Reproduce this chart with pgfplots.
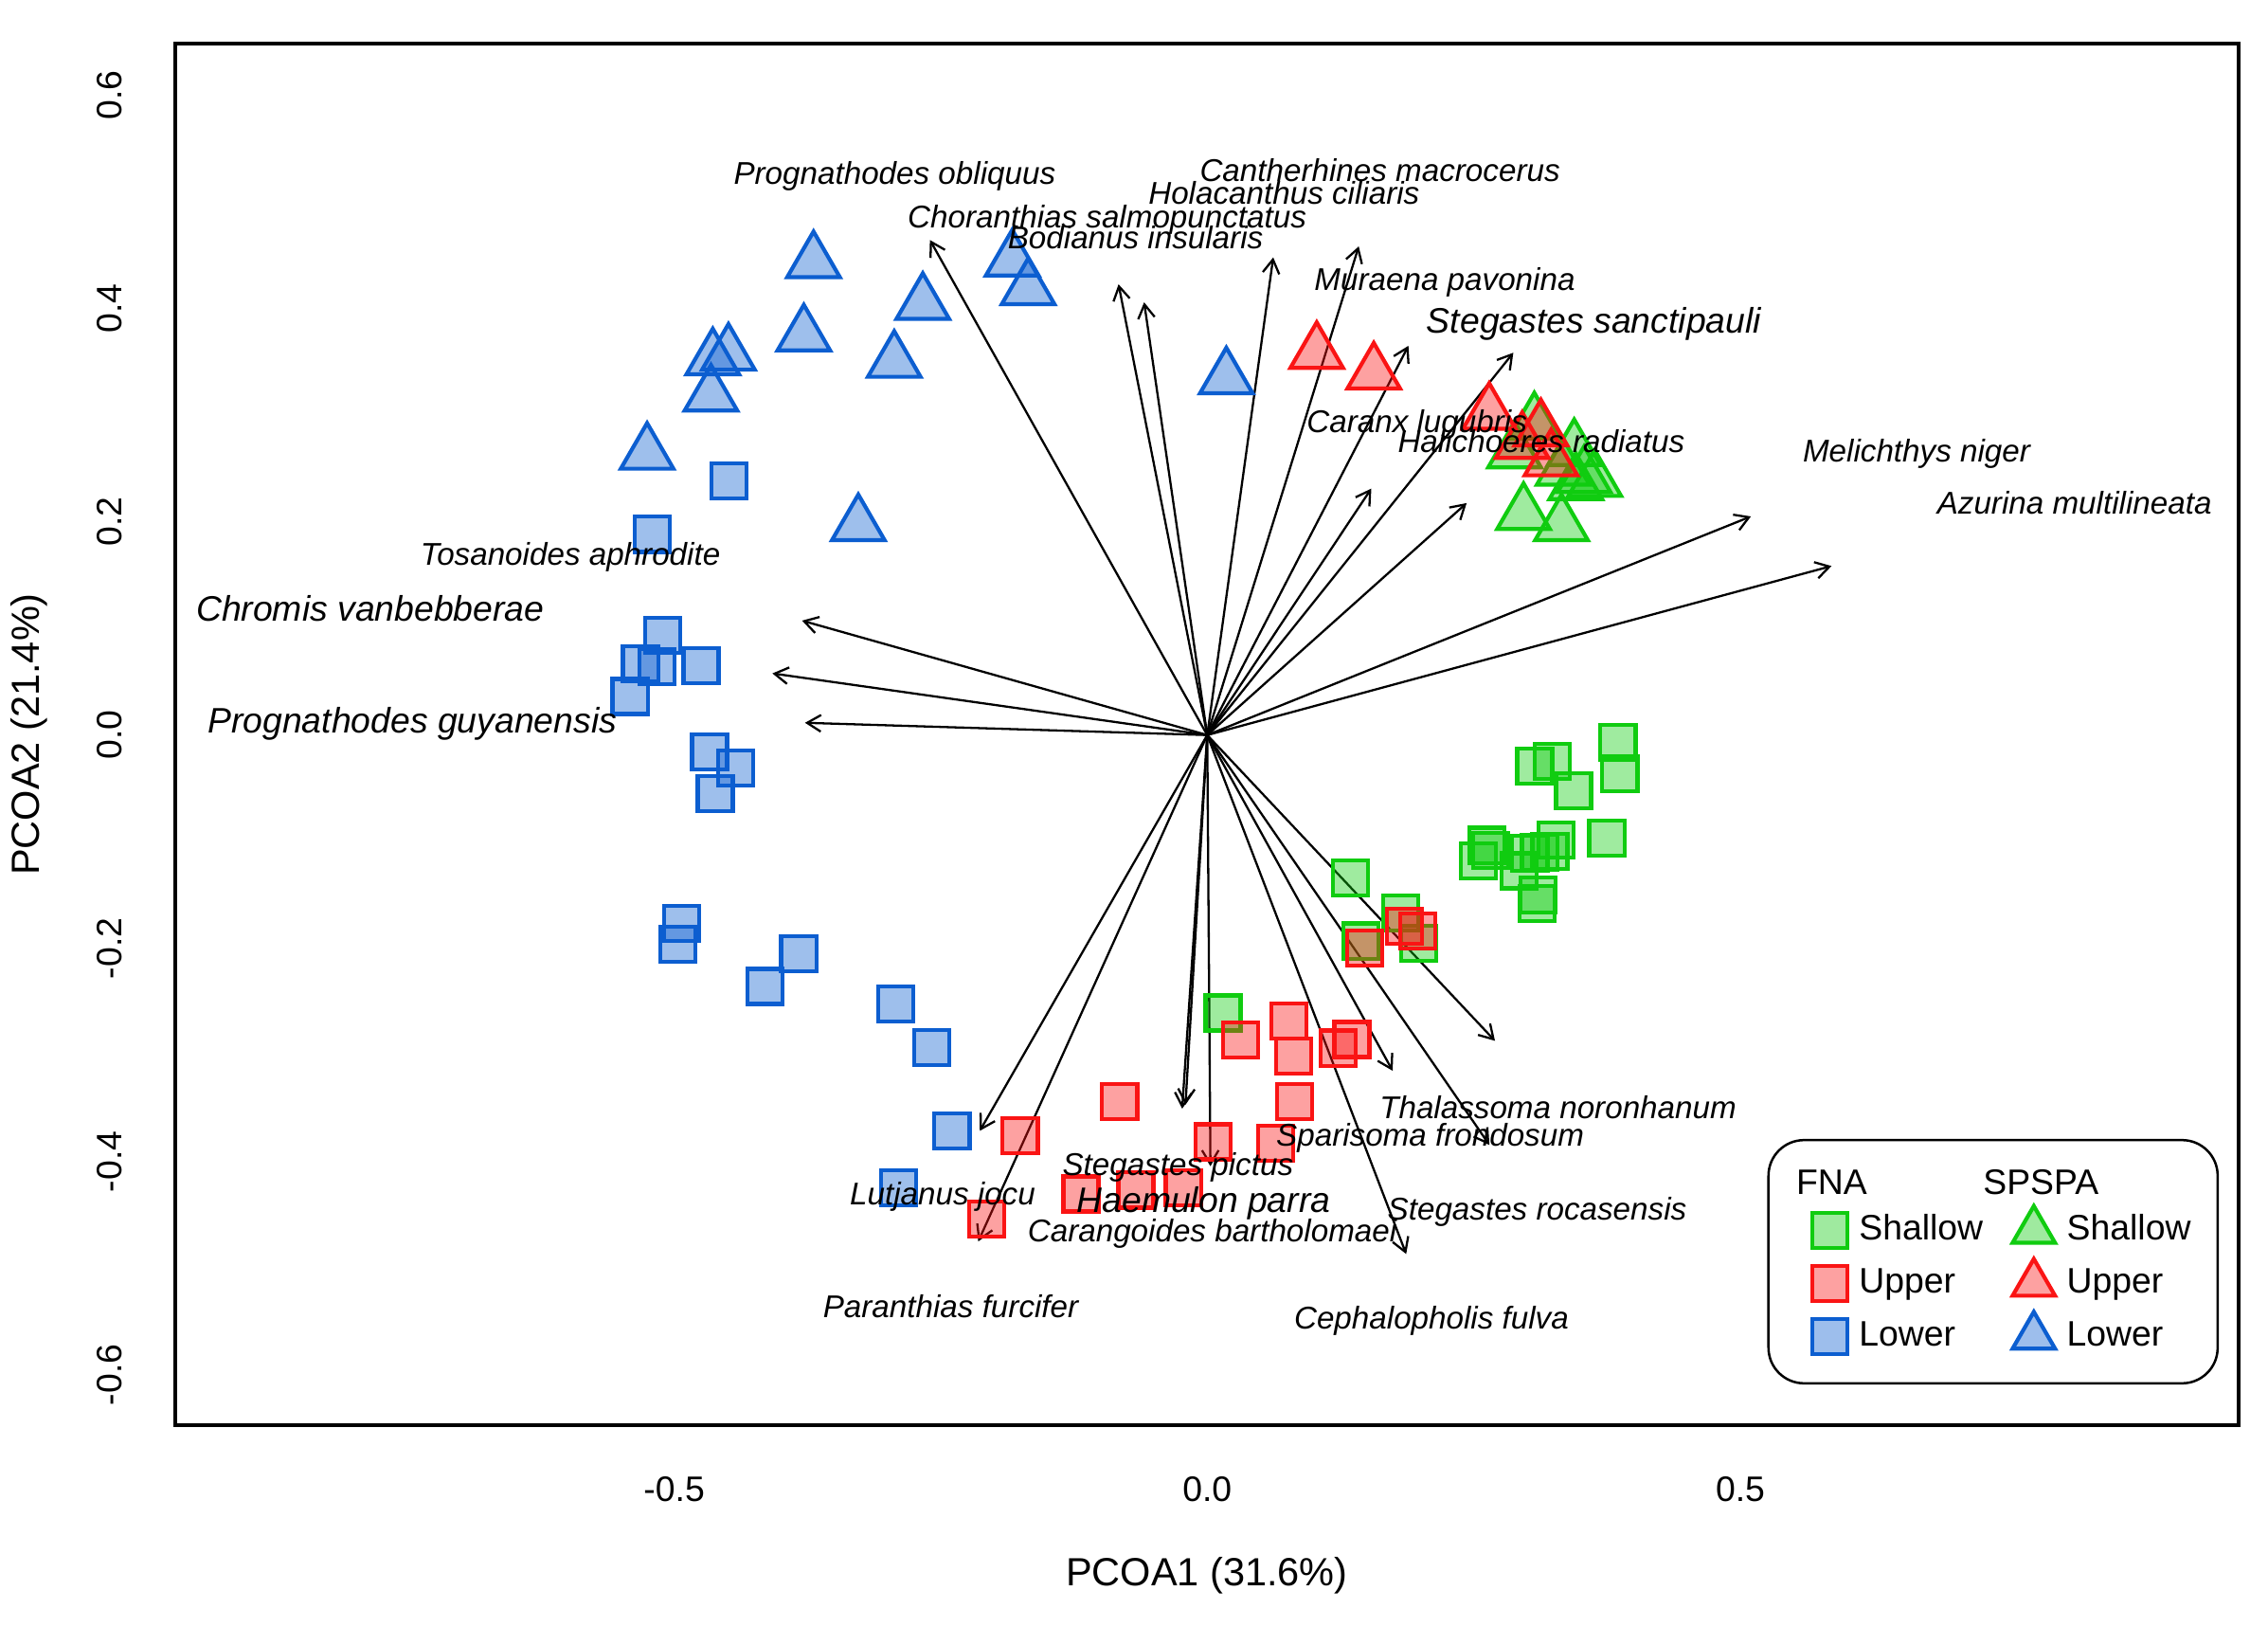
\documentclass[border=0pt]{standalone}
\usepackage{fontspec}
\setmainfont{Liberation Sans}
\usepackage{pgfplots}
\pgfplotsset{compat=1.18}
\usetikzlibrary{arrows.meta}

\definecolor{gC}{RGB}{16,204,16}
\definecolor{rC}{RGB}{250,20,20}
\definecolor{bC}{RGB}{12,94,208}

\pgfplotsset{
  sq/.style={only marks, mark=square*, mark size=4.45bp,
    mark options={draw=#1, fill=#1, fill opacity=0.4, line width=1bp}},
  tri/.style={only marks, mark=triangle*, mark size=7.7bp,
    mark options={draw=#1, fill=#1, fill opacity=0.4, line width=1bp}},
  legmk/.style={legend image code/.code={\draw[sharp corners,##1] plot coordinates {(0bp,0bp)};}},
  legsq/.style={legend image code/.code={\path[draw=none,fill=none] (-11.7bp,-0.1bp) rectangle (0bp,0.1bp);
      \draw[sharp corners,##1] plot coordinates {(0bp,0bp)};}},
}
\tikzset{
  sp/.style={font=\fontsize{8}{9.6}\selectfont\itshape, anchor=base, yshift=-2.9bp, inner sep=0pt},
  spb/.style={font=\fontsize{9}{10.8}\selectfont\itshape, anchor=base, yshift=-3.2bp, inner sep=0pt},
}

\begin{document}
\begin{tikzpicture}
\path[use as bounding box] (-44.4bp,-55.44bp) rectangle (530.16bp,360.96bp);
\begin{axis}[
  scale only axis, width=522.72bp, height=349.92bp,
  xmin=-0.968, xmax=0.9674, ymin=-0.6471, ymax=0.6484,
  axis line style={line width=0.75bp},
  major tick length=0pt,
  xtick={-0.5,0,0.5}, xticklabels={-0.5,0.0,0.5},
  ytick={-0.6,-0.4,-0.2,0,0.2,0.4,0.6},
  yticklabels={-0.6,-0.4,-0.2,0.0,0.2,0.4,0.6},
  ticklabel style={font=\fontsize{9}{10.8}\selectfont},
  xticklabel style={anchor=center, yshift=-16.2bp},
  yticklabel style={anchor=center, xshift=-16.6bp, rotate=90},
  xlabel={PCOA1 (31.6\%)}, ylabel={PCOA2 (21.4\%)},
  label style={font=\fontsize{9}{10.8}\selectfont},
  every axis x label/.style={at={(rel axis cs:0.5,0)}, anchor=center, yshift=-38.2bp},
  every axis y label/.style={at={(rel axis cs:0,0.5)}, anchor=center, xshift=-37.1bp, rotate=90},
  clip=false,
  legend columns=2,
  legend cell align=left,
  legend style={at={(rel axis cs:1,0)}, anchor=south east, xshift=-5bp, yshift=10.3bp,
    draw=black, line width=0.6bp, rounded corners=9bp, fill=white,
    font=\fontsize{9}{10.8}\selectfont,
    inner xsep=3.8bp, inner ysep=5.2bp,
    column sep=0bp,
    /tikz/every even column/.append style={column sep=4.5bp},
    nodes={text height=6.6bp, text depth=1.9bp, inner xsep=3bp, inner ysep=2.45bp}},
]

% FNA Shallow
\addplot[sq=gC, forget plot] table {
x y
0.3853 -0.0068
0.3871 -0.0364
0.3072 -0.0290
0.3235 -0.0248
0.3436 -0.0521
0.3748 -0.0965
0.2621 -0.1034
0.2658 -0.1080
0.2545 -0.1182
0.3274 -0.0982
0.3117 -0.1102
0.3214 -0.1090
0.3027 -0.1110
0.2924 -0.1273
0.3102 -0.1498
0.3096 -0.1578
0.1345 -0.1342
0.1813 -0.1670
0.1442 -0.1931
0.1982 -0.1954
0.0148 -0.2606
};
% FNA Upper
\addplot[sq=rC, forget plot] table {
x y
0.0311 -0.2858
0.0769 -0.2680
0.0810 -0.3010
0.1229 -0.2935
0.1357 -0.2855
-0.0821 -0.3436
0.0821 -0.3436
-0.1754 -0.3756
0.0056 -0.3814
0.0643 -0.3826
-0.1185 -0.4303
-0.0669 -0.4267
-0.0224 -0.4242
-0.2071 -0.4540
0.1479 -0.1999
0.1852 -0.1791
0.1976 -0.1836
};
% FNA Lower
\addplot[sq=bC, forget plot] table {
x y
-0.4483 0.2381
-0.5204 0.1882
-0.5109 0.0934
-0.5316 0.0666
-0.5163 0.0643
-0.4748 0.0649
-0.5414 0.0362
-0.4668 -0.0156
-0.4422 -0.0311
-0.4615 -0.0547
-0.4928 -0.1765
-0.4965 -0.1963
-0.3832 -0.2049
-0.4148 -0.2357
-0.2919 -0.2520
-0.2582 -0.2928
-0.2394 -0.3711
-0.2898 -0.4242
};
% SPSPA Shallow
\addplot[tri=gC, forget plot] table {
x y
0.2883 0.2653
0.3068 0.2924
0.3442 0.2674
0.3635 0.2385
0.3457 0.2355
0.3339 0.2490
0.3535 0.2422
0.2967 0.2075
0.3323 0.1970
};
% SPSPA Upper
\addplot[tri=rC, forget plot] table {
x y
0.1027 0.3585
0.1562 0.3392
0.2645 0.3014
0.3130 0.2859
0.2954 0.2741
0.3225 0.2578
};
% SPSPA Lower
\addplot[tri=bC, forget plot] table {
x y
-0.3693 0.4436
-0.3784 0.3749
-0.4638 0.3525
-0.4491 0.3569
-0.4655 0.3185
-0.2936 0.3502
-0.5254 0.2640
-0.3273 0.1970
-0.2668 0.4045
-0.1829 0.4452
-0.1680 0.4183
0.0179 0.3347
};

% species vectors
\addplot[black, line width=0.55bp, -{Straight Barb[length=3.5bp,width=4.2bp]},
  quiver={u=\thisrow{u}, v=\thisrow{v}}, forget plot] table {
x y u v
0 0 -0.2601 0.4642
0 0 -0.0832 0.4227
0 0 -0.0592 0.4058
0 0 0.0619 0.4479
0 0 0.1421 0.4582
0 0 0.1887 0.3650
0 0 0.2871 0.3585
0 0 0.1539 0.2311
0 0 0.2433 0.2175
0 0 0.5100 0.2050
0 0 0.5856 0.1585
0 0 -0.3801 0.1073
0 0 -0.4079 0.0578
0 0 -0.3773 0.0115
0 0 -0.2133 -0.3711
0 0 -0.2148 -0.4748
0 0 -0.0235 -0.3503
0 0 -0.0204 -0.3467
0 0 0.0030 -0.4043
0 0 0.1739 -0.3148
0 0 0.2699 -0.2867
0 0 0.2647 -0.3844
0 0 0.1866 -0.4866
};

% label anchors (species names are set after the axis, on top of the marks)
\coordinate (s1) at (axis cs:-0.2932,0.5273);
\coordinate (s2) at (axis cs:-0.0939,0.4864);
\coordinate (s3) at (axis cs:-0.0673,0.4665);
\coordinate (s4) at (axis cs:0.1620,0.5300);
\coordinate (s5) at (axis cs:0.0720,0.5085);
\coordinate (s6) at (axis cs:0.2228,0.4277);
\coordinate (s7) at (axis cs:0.3627,0.3886);
\coordinate (s8) at (axis cs:0.1967,0.2947);
\coordinate (s9) at (axis cs:0.3133,0.2761);
\coordinate (s10) at (axis cs:0.6653,0.2666);
\coordinate (s11) at (axis cs:0.8134,0.2178);
\coordinate (s12) at (axis cs:-0.5973,0.1701);
\coordinate (s13) at (axis cs:-0.7851,0.1191);
\coordinate (s14) at (axis cs:-0.7456,0.0140);
\coordinate (s15) at (axis cs:-0.2482,-0.4297);
\coordinate (s16) at (axis cs:-0.2406,-0.5354);
\coordinate (s17) at (axis cs:0.0047,-0.4643);
\coordinate (s18) at (axis cs:-0.0034,-0.4357);
\coordinate (s19) at (axis cs:-0.0275,-0.4022);
\coordinate (s20) at (axis cs:0.2091,-0.3746);
\coordinate (s21) at (axis cs:0.3290,-0.3488);
\coordinate (s22) at (axis cs:0.3094,-0.4437);
\coordinate (s23) at (axis cs:0.2103,-0.5464);

\addlegendimage{empty legend}
\addlegendentry[text height=6.1bp, text depth=-3.55bp]{\hspace*{-15.9bp}FNA}
\addlegendimage{empty legend}
\addlegendentry[text height=6.1bp, text depth=-3.55bp]{\hspace*{-21.2bp}SPSPA}
\addlegendimage{legsq, sq=gC}
\addlegendentry{Shallow}
\addlegendimage{legmk, tri=gC, mark size=6.2bp}
\addlegendentry{Shallow}
\addlegendimage{legsq, sq=rC}
\addlegendentry{Upper}
\addlegendimage{legmk, tri=rC, mark size=6.2bp}
\addlegendentry{Upper}
\addlegendimage{legsq, sq=bC}
\addlegendentry{Lower}
\addlegendimage{legmk, tri=bC, mark size=6.2bp}
\addlegendentry{Lower}
\end{axis}

\node[sp] at (s1) {Prognathodes obliquus};
\node[sp] at (s2) {Choranthias salmopunctatus};
\node[sp] at (s3) {Bodianus insularis};
\node[sp] at (s4) {Cantherhines macrocerus};
\node[sp] at (s5) {Holacanthus ciliaris};
\node[sp] at (s6) {Muraena pavonina};
\node[spb] at (s7) {Stegastes sanctipauli};
\node[sp] at (s8) {Caranx lugubris};
\node[sp] at (s9) {Halichoeres radiatus};
\node[sp] at (s10) {Melichthys niger};
\node[sp] at (s11) {Azurina multilineata};
\node[sp] at (s12) {Tosanoides aphrodite};
\node[spb] at (s13) {Chromis vanbebberae};
\node[spb] at (s14) {Prognathodes guyanensis};
\node[sp] at (s15) {Lutjanus jocu};
\node[sp] at (s16) {Paranthias furcifer};
\node[sp] at (s17) {Carangoides bartholomaei};
\node[spb] at (s18) {Haemulon parra};
\node[sp] at (s19) {Stegastes pictus};
\node[sp] at (s20) {Sparisoma frondosum};
\node[sp] at (s21) {Thalassoma noronhanum};
\node[sp] at (s22) {Stegastes rocasensis};
\node[sp] at (s23) {Cephalopholis fulva};
\end{tikzpicture}
\end{document}
